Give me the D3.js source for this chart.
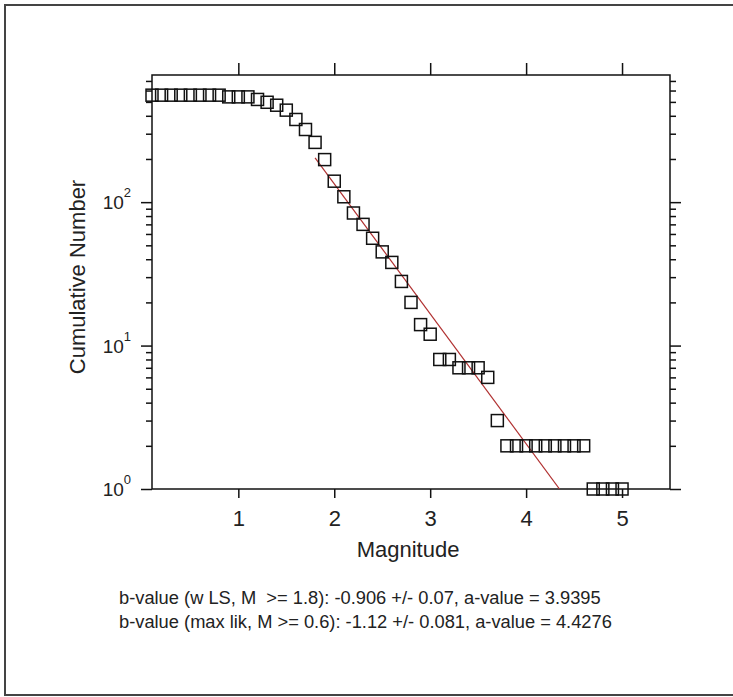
<!DOCTYPE html>
<html>
<head>
<meta charset="utf-8">
<script src="https://cdn.jsdelivr.net/npm/d3@7"></script>
<style>
  body { margin: 0; background: #fff; }
  svg { display: block; font-family: Arial, "Liberation Sans", sans-serif; }
</style>
</head>
<body>
<div id="chart"></div>
<script>
// values
const magnitudes = [
  0.1, 0.2, 0.3, 0.4, 0.5, 0.6, 0.7, 0.8, 0.9, 1.0,
  1.1, 1.2, 1.3, 1.4, 1.5, 1.6, 1.7, 1.8, 1.9, 2.0,
  2.1, 2.2, 2.3, 2.4, 2.5, 2.6, 2.7, 2.8, 2.9, 3.0,
  3.1, 3.2, 3.3, 3.4, 3.5, 3.6, 3.7, 3.8, 3.9, 4.0,
  4.1, 4.2, 4.3, 4.4, 4.5, 4.6, 4.7, 4.8, 4.9, 5.0
];
const cumulative = [
  557, 557, 557, 557, 557, 557, 557, 557, 542, 542,
  542, 520, 497, 474, 438, 377, 321, 261, 198, 140,
  109, 84, 70, 56, 45, 38, 28, 20, 14, 12,
  8, 8, 7, 7, 7, 6, 3, 2, 2, 2,
  2, 2, 2, 2, 2, 2, 1, 1, 1, 1
];
const xTicks = [1, 2, 3, 4, 5];
const yDecades = [1, 10, 100];
const yExponents = ["0", "1", "2"];

// least squares fit shown as the red line
const fitA = 3.9395;
const fitB = 0.906;
const fitMin = 1.8;

const statLines = [
  "b-value (w LS, M  >= 1.8): -0.906 +/- 0.07, a-value = 3.9395",
  "b-value (max lik, M >= 0.6): -1.12 +/- 0.081, a-value = 4.4276"
];

const totalWidth = 733;
const totalHeight = 697;
const margins = { top: 75, right: 63, bottom: 208, left: 152 };
const chartWidth = totalWidth - margins.left - margins.right;
const chartHeight = totalHeight - margins.top - margins.bottom;

const svg = d3
  .select("#chart")
  .append("svg")
  .attr("width", totalWidth)
  .attr("height", totalHeight);

// outer frame of the figure
svg
  .append("rect")
  .attr("x", 5)
  .attr("y", 5)
  .attr("width", 740)
  .attr("height", 690)
  .attr("fill", "none")
  .attr("stroke", "#444")
  .attr("stroke-width", 2);

const g = svg
  .append("g")
  .attr("transform", `translate(${margins.left}, ${margins.top})`);

const x = d3.scaleLinear().domain([0.1, 5.5]).range([0, chartWidth]);
const y = d3.scaleLog().domain([1, 770]).range([chartHeight, 0]);

const minorTicks = y.ticks().filter((v) => !yDecades.includes(v));

const styleAxis = (sel) => {
  sel.select(".domain").remove();
  sel.selectAll(".tick line").attr("stroke", "#111").attr("stroke-width", 1.5);
};

// left and right log axes
g.append("g")
  .call(d3.axisLeft(y).tickValues(minorTicks).tickSize(6).tickFormat(""))
  .call(styleAxis);
const leftMajor = g
  .append("g")
  .call(d3.axisLeft(y).tickValues(yDecades).tickSize(11).tickFormat(""))
  .call(styleAxis);

leftMajor.selectAll(".tick text").remove();
leftMajor
  .selectAll(".tick")
  .append("text")
  .attr("x", -21)
  .attr("fill", "#222")
  .attr("text-anchor", "end")
  .each(function (d, i) {
    const t = d3.select(this);
    t.append("tspan").attr("font-size", 19).attr("dy", "0.36em").text("10");
    t.append("tspan")
      .attr("font-size", 13)
      .attr("dy", -12)
      .text(yExponents[i]);
  });

const right = g.append("g").attr("transform", `translate(${chartWidth}, 0)`);
right
  .append("g")
  .call(d3.axisRight(y).tickValues(minorTicks).tickSize(6).tickFormat(""))
  .call(styleAxis);
right
  .append("g")
  .call(d3.axisRight(y).tickValues(yDecades).tickSize(11).tickFormat(""))
  .call(styleAxis);

// top and bottom axes
g.append("g")
  .call(d3.axisTop(x).tickValues(xTicks).tickSize(12).tickFormat(""))
  .call(styleAxis);

const bottom = g
  .append("g")
  .attr("transform", `translate(0, ${chartHeight})`)
  .call(d3.axisBottom(x).tickValues(xTicks).tickSize(9).tickPadding(12).tickFormat(d3.format("d")))
  .call(styleAxis);
bottom
  .selectAll(".tick text")
  .attr("font-size", 22)
  .attr("font-family", "Arial, 'Liberation Sans', sans-serif")
  .attr("fill", "#222");

// plot box
g.append("rect")
  .attr("width", chartWidth)
  .attr("height", chartHeight)
  .attr("fill", "none")
  .attr("stroke", "#111")
  .attr("stroke-width", 1.5);

g.append("clipPath")
  .attr("id", "plot-clip")
  .append("rect")
  .attr("width", chartWidth)
  .attr("height", chartHeight);

// fitted line log10(N) = a - b*M
const fitEnd = fitA / fitB;
const fitLine = d3
  .line()
  .x((d) => x(d))
  .y((d) => y(Math.pow(10, fitA - fitB * d)));

g.append("path")
  .datum([fitMin, fitEnd])
  .attr("d", fitLine)
  .attr("clip-path", "url(#plot-clip)")
  .attr("fill", "none")
  .attr("stroke", "#b03030")
  .attr("stroke-width", 1.2);

// squares
const size = 12;
g.selectAll("rect.pt")
  .data(magnitudes)
  .enter()
  .append("rect")
  .attr("class", "pt")
  .attr("x", (d) => x(d) - size / 2)
  .attr("y", (d, i) => y(cumulative[i]) - size / 2)
  .attr("width", size)
  .attr("height", size)
  .attr("fill", "none")
  .attr("stroke", "#111")
  .attr("stroke-width", 1.5);

// axis titles
g.append("text")
  .attr("x", chartWidth / 2 - 3)
  .attr("y", chartHeight + 68)
  .attr("text-anchor", "middle")
  .attr("font-size", 22)
  .attr("fill", "#222")
  .text("Magnitude");

g.append("text")
  .attr("transform", `translate(-67, ${chartHeight / 2 - 5}) rotate(-90)`)
  .attr("text-anchor", "middle")
  .attr("font-size", 22)
  .attr("fill", "#222")
  .text("Cumulative Number");

// b-value summary lines
svg
  .selectAll("text.stat")
  .data(statLines)
  .enter()
  .append("text")
  .attr("class", "stat")
  .attr("x", 119)
  .attr("y", (d, i) => 604 + i * 24)
  .attr("font-size", 18.3)
  .attr("fill", "#222")
  .attr("xml:space", "preserve")
  .style("white-space", "pre")
  .text((d) => d);
</script>
</body>
</html>
